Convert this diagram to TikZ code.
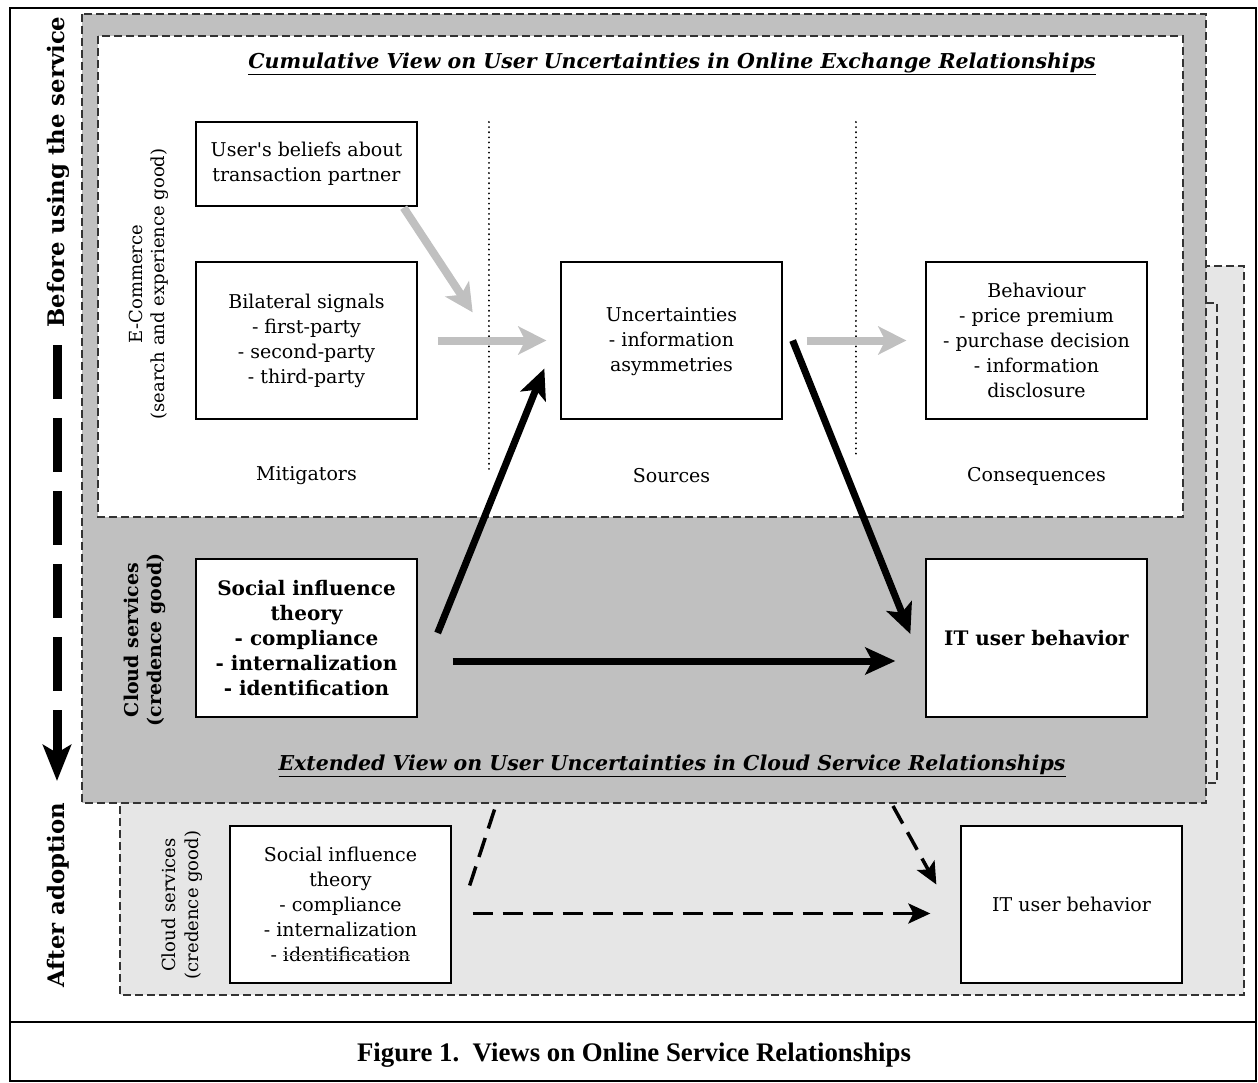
\documentclass[tikz,border=0pt]{standalone}
\usepackage{fontspec}
\setmainfont{DejaVu Serif}
\newfontfamily\capfont{Liberation Serif}
\usetikzlibrary{arrows.meta,calc}
\definecolor{darkfill}{RGB}{192,192,192}
\definecolor{lightfill}{RGB}{230,230,230}
\definecolor{arrowgray}{RGB}{192,192,192}
\newlength\strikelen
\newcommand\graystrike[1]{\settowidth\strikelen{#1}#1\llap{\textcolor{black!35}{\rule[0.55ex]{\strikelen}{1.3pt}}}}
\tikzset{
  region/.style={draw=black!80, line width=1.5pt, dash pattern=on 8pt off 4pt},
  boxnode/.style={draw, fill=white, line width=1.3pt, minimum width=221pt, align=center, inner sep=0pt,
                  font=\fontsize{19pt}{25pt}\selectfont},
  boldbox/.style={boxnode, font=\fontsize{20pt}{25pt}\selectfont\bfseries},
  bodytext/.style={font=\fontsize{19pt}{25pt}\selectfont, align=center, inner sep=0pt},
  sidebold/.style={rotate=90, font=\fontsize{22.8pt}{26pt}\selectfont\bfseries, inner sep=0pt},
  sidetext/.style={rotate=90, align=center, inner sep=0pt, font=\fontsize{18pt}{22.5pt}\selectfont},
  titletext/.style={font=\fontsize{20.5pt}{23pt}\selectfont\bfseries\itshape, inner sep=0pt},
  grayarrow/.style={draw=arrowgray, line width=8pt, -{Stealth[length=28pt,width=28pt,inset=7pt]}},
  blackarrow/.style={draw=black, line width=7pt, -{Stealth[length=30pt,width=27pt,inset=7pt]}},
  dasharrow/.style={draw=black, line width=3.5pt, dash pattern=on 20pt off 10pt, -{Stealth[length=22pt,width=20pt,inset=5pt]}},
  dashline/.style={draw=black, line width=3.5pt, dash pattern=on 20pt off 10pt},
  dotline/.style={draw=black, line width=2pt, dash pattern=on 0.1pt off 5pt, line cap=round},
}
\begin{document}
\begin{tikzpicture}[x=1pt,y=-1pt]
\useasboundingbox (0,0) rectangle (1258,1083);
\fill[white] (0,0) rectangle (1258,1083);
% outer frame
\draw[line width=2pt] (10,8) rectangle (1256,1081);
\draw[line width=2pt] (10,1022) -- (1256,1022);
% regions
\filldraw[region, fill=lightfill] (120,266) rectangle (1244,995);
\draw[region] (1206,303) -- (1217,303) -- (1217,783) -- (1206,783);
\filldraw[region, fill=darkfill] (82,14) rectangle (1206,803);
\filldraw[region, fill=white] (98,36) rectangle (1183,517);

% titles
\node[titletext] (t1) at (672,64) {\underline{Cumulative View on User Uncertainties in Online Exchange Relationships}};
\node[titletext] (t2) at (672,766) {\underline{Extended View on User Uncertainties in Cloud Service Relationships}};

% side labels
\node[sidebold] (before) at (58,172) {Before using the service};
\node[sidebold] (after) at (58,895) {After adoption};
\node[sidetext] (ecom) at (149,284) {E-Commerce\\(search and experience good)};
\node[sidetext, font=\fontsize{19pt}{23pt}\selectfont\bfseries] (cloud1) at (145,640) {Cloud services\\(credence good)};
\node[sidetext] (cloud2) at (182,905) {Cloud services\\(credence good)};

% time arrow
\coordinate (ta) at (57,345);
\coordinate (tb) at (57,781);
\draw[line width=9pt, dash pattern=on 54pt off 19pt, -{Stealth[length=36pt,width=28pt,inset=8pt]}] (ta) -- (tb);

% dotted separators
\coordinate (d1a) at (489,122); \coordinate (d1b) at (489,470);
\coordinate (d2a) at (856,122); \coordinate (d2b) at (856,455);
\draw[dotline] (d1a) -- (d1b);
\draw[dotline] (d2a) -- (d2b);

% boxes
\node[boxnode, minimum height=84pt] (beliefs) at (306.5,164) {User\textquotesingle s beliefs about\\transaction partner};
\node[boxnode, minimum height=157pt] (bilat) at (306.5,340.5) {Bilateral signals\\- first-party\\- second-party\\- third-party};
\node[boxnode, minimum height=157pt] (uncert) at (671.5,340.5) {};
\node[bodytext] (uncertT) at (671.5,342) {Uncertainties\\- information\\asymmetries};
\node[boxnode, minimum height=157pt] (behav) at (1036.5,340.5) {Behaviour\\- price premium\\- purchase decision\\- information\\disclosure};
\node[bodytext] (mit) at (306.5,476) {Mitigators};
\node[bodytext] (src) at (671.5,476) {Sources};
\node[bodytext] (cons) at (1036.5,476) {Consequences};

\node[boldbox, minimum height=158pt] (sib) at (306.5,638) {Social influence\\theory\\- compliance\\- internalization\\- identification};
\node[boldbox, minimum height=158pt] (itb) at (1036.5,638) {IT user behavior};

\node[boxnode, minimum height=157pt] (sib2) at (340.5,904.5) {Social influence\\theory\\- compliance\\- internalization\\- \graystrike{identification}};
\node[boxnode, minimum height=157pt] (itb2) at (1071.5,904.5) {IT user behavior};

% gray arrows
\draw[grayarrow] ($(beliefs.south east)+(-14,1)$) -- ($(bilat.north east)+(55,51)$);
\draw[grayarrow] ($(bilat.east)+(20,0)$) -- ($(uncert.west)+(-14,0)$);
\draw[grayarrow] ($(uncert.east)+(24,0)$) -- ($(behav.west)+(-19,0)$);

% black arrows
\draw[blackarrow] ($(sib.east)+(20,-5)$) -- ($(uncert.west)+(-16,28)$);
\draw[blackarrow] ($(uncert.east)+(10,0)$) -- ($(itb.west)+(-15,-4)$);
\draw[blackarrow] ($(sib.east)+(35,23)$) -- ($(itb.west)+(-30,23)$);

% dashed arrows (after adoption)
\coordinate (up2) at (495,808);
\coordinate (down2) at (893,806);
\draw[dashline] ($(sib2.east)+(18,-19)$) -- (up2);
\draw[dasharrow] (down2) -- ($(itb2.west)+(-24,-20)$);
\draw[dasharrow] ($(sib2.east)+(21,9)$) -- ($(itb2.west)+(-30,9)$);

% caption
\node[font=\capfont\fontsize{26.8pt}{30pt}\selectfont\bfseries, inner sep=0pt] (cap) at (634,1055) {Figure 1.\ \ Views on Online Service Relationships};
\end{tikzpicture}
\end{document}
